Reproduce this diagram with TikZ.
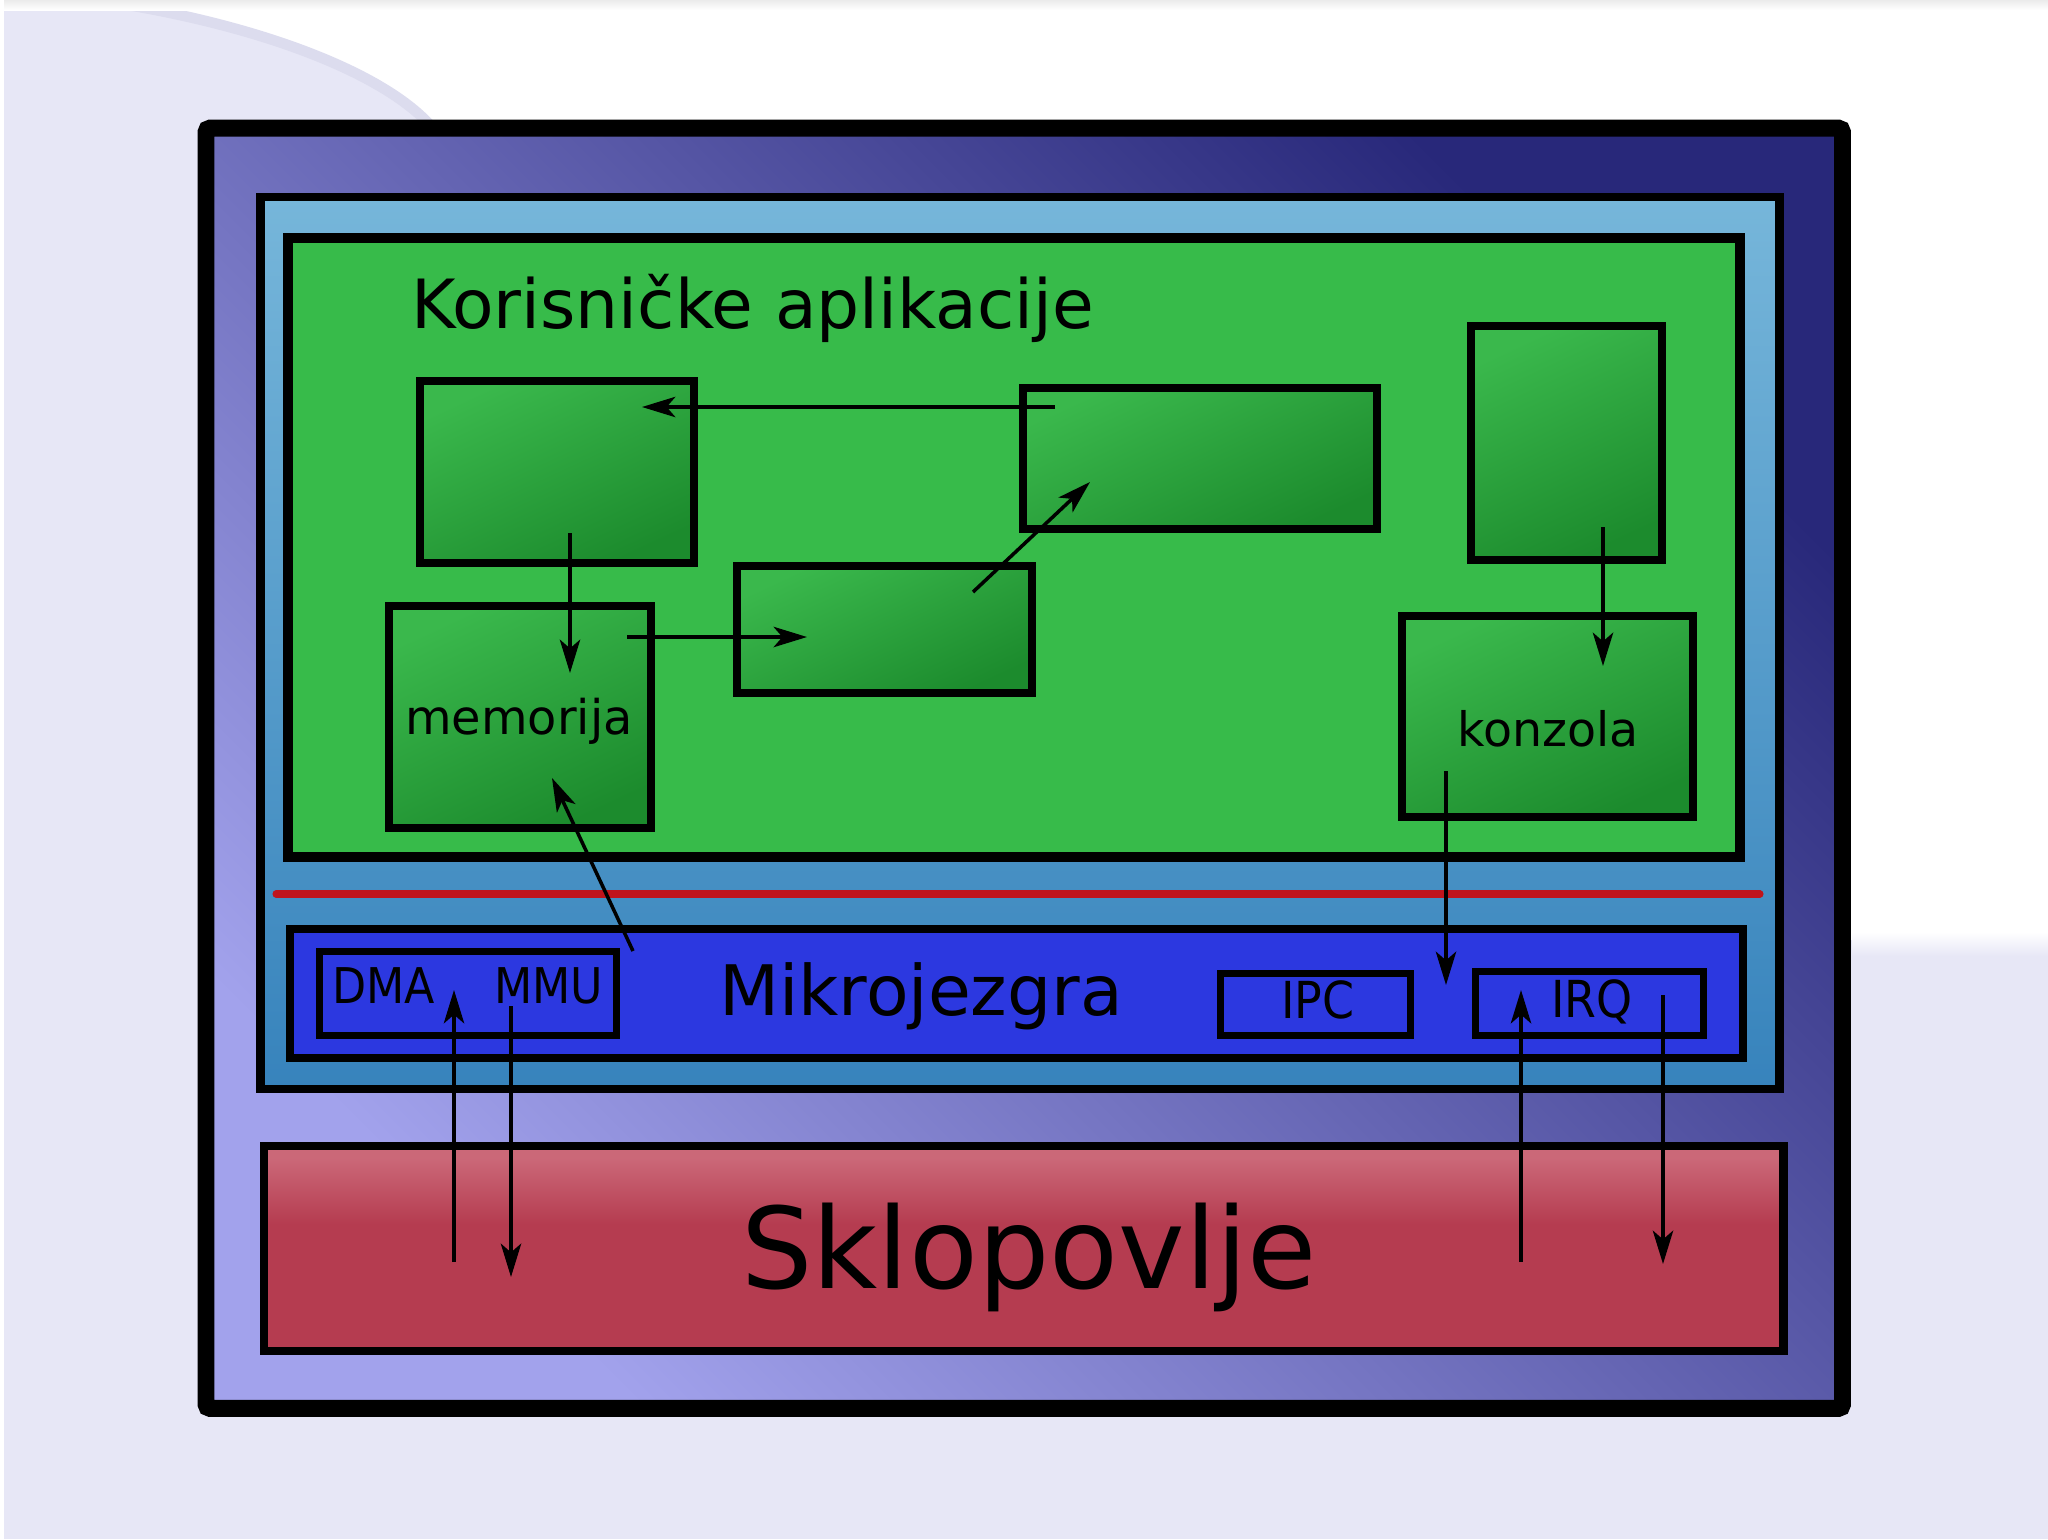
\documentclass[tikz,border=0pt]{standalone}
\usepackage{fontspec}
\setmainfont{DejaVu Sans}
\newfontfamily\condfont[FakeStretch=0.9]{DejaVu Sans}
\usetikzlibrary{arrows.meta}

\definecolor{bglav}{HTML}{E7E7F6}
\definecolor{bgedge}{HTML}{DCDCEE}
\definecolor{framelight}{HTML}{A2A2EC}
\definecolor{framedark}{HTML}{28287A}
\definecolor{kerntop}{HTML}{76B6DA}
\definecolor{kernbot}{HTML}{3783BC}
\definecolor{appgreen}{HTML}{37BB4A}
\definecolor{glight}{HTML}{3AB84C}
\definecolor{gdark}{HTML}{1C8B2D}
\definecolor{mikblue}{HTML}{2C38E0}
\definecolor{redbase}{HTML}{B53C50}
\definecolor{redtop}{HTML}{CB6878}
\definecolor{sepred}{HTML}{C0141C}

\pgfdeclareverticalshading{redsh}{100bp}{color(0bp)=(redbase); color(25bp)=(redbase); color(56bp)=(redbase); color(72bp)=(redtop); color(75bp)=(redtop); color(100bp)=(redtop)}

\tikzset{
  box/.style={draw=black, rectangle, inner sep=0pt, outer sep=0pt},
  gbox/.style={box, line width=2.3pt, left color=glight, right color=gdark, shading angle=25},
  sbox/.style={box, line width=2pt},
  lbl/.style={inner sep=0pt, outer sep=0pt, text=black},
  arr/.style={-{Stealth[length=9.5pt,width=5.8pt,inset=2.5pt]}, line width=1pt, draw=black},
}

\begin{document}
\begin{tikzpicture}[x=0.01cm, y=-0.01cm]
\useasboundingbox (0,0) rectangle (2048,1539);

% background
\fill[bglav] (0,0) rectangle (2048,1539);
\fill[white] (96,0) .. controls (250,22) and (380,70) .. (430,125) -- (1000,300) -- (1000,940) -- (2048,940) -- (2048,0) -- cycle;
\draw[bgedge, line width=3pt] (96,0) .. controls (250,22) and (380,70) .. (430,125);
\shade[top color=white, bottom color=bglav] (1852,932) rectangle (2048,956);
\shade[top color=black!8, bottom color=white] (0,0) rectangle (2048,10);
\fill[white] (0,0) rectangle (4,1539);

% outer frame
\node[box, line width=4.8pt, rounded corners=0.04cm, left color=framelight, right color=framedark, shading angle=135,
      minimum width=16.355cm, minimum height=12.795cm] (frame) at (1024.25,768.25) {};

% kernel / user space container
\node[box, line width=2.4pt, top color=kerntop, bottom color=kernbot,
      minimum width=15.18cm, minimum height=8.915cm] (kern) at (1020,643.25) {};

% user applications
\node[box, line width=2.85pt, fill=appgreen,
      minimum width=14.52cm, minimum height=6.19cm] (apps) at (1014,547.5) {};
\node[lbl, anchor=base west, font=\fontsize{19.3}{22}\selectfont] (title) at (411,328) {Korisničke aplikacije};

\node[gbox, minimum width=2.74cm, minimum height=1.82cm] (A) at (557,472) {};
\node[gbox, minimum width=2.62cm, minimum height=2.22cm] (mem) at (520,717) {};
\node[gbox, minimum width=2.95cm, minimum height=1.27cm] (E) at (884.5,629.5) {};
\node[gbox, minimum width=3.54cm, minimum height=1.41cm] (B) at (1200,458.5) {};
\node[gbox, minimum width=1.91cm, minimum height=2.34cm] (C) at (1566.5,443) {};
\node[gbox, minimum width=2.91cm, minimum height=2.01cm] (kon) at (1547.5,716.5) {};
\node[lbl, anchor=base, font=\fontsize{13.6}{16}\selectfont] (memtxt) at (519,734) {memorija};
\node[lbl, anchor=base, font=\fontsize{13.5}{16}\selectfont] (kontxt) at (1548,746) {konzola};

% separator
\coordinate (sepL) at (276,894);
\coordinate (sepR) at (1760,894);
\draw[sepred, line width=2pt, line cap=round] (sepL) -- (sepR);

% microkernel
\node[box, line width=2.3pt, fill=mikblue, minimum width=14.53cm, minimum height=1.29cm] (mikro) at (1016.5,993.5) {};
\node[sbox, minimum width=2.97cm, minimum height=0.84cm] (dmammu) at (468,993.5) {};
\node[sbox, minimum width=1.90cm, minimum height=0.62cm] (ipc) at (1315.5,1004.5) {};
\node[sbox, minimum width=2.28cm, minimum height=0.64cm] (irq) at (1589.5,1003.5) {};
\node[lbl, anchor=base, font=\fontsize{19.8}{22}\selectfont] (miktxt) at (921,1015) {Mikrojezgra};
\node[lbl, anchor=base west, font=\condfont\fontsize{14}{16}\selectfont] (dmatxt) at (332,1003) {DMA};
\node[lbl, anchor=base west, font=\condfont\fontsize{14}{16}\selectfont] (mmutxt) at (494,1003) {MMU};
\node[lbl, anchor=base, font=\condfont\fontsize{14.5}{16}\selectfont] (ipctxt) at (1318,1018) {IPC};
\node[lbl, anchor=base, font=\condfont\fontsize{14.5}{16}\selectfont] (irqtxt) at (1592,1017) {IRQ};

% hardware
\node[box, line width=2.3pt, shading=redsh, minimum width=15.19cm, minimum height=2.05cm] (sklop) at (1023.5,1248.5) {};
\node[lbl, anchor=base, font=\fontsize{32}{36}\selectfont] (sktxt) at (1029,1288) {Sklopovlje};

% connector end points
\coordinate (b1) at (1055,407);   \coordinate (a1) at (642,407);
\coordinate (a2) at (570,533);    \coordinate (m2) at (570,673);
\coordinate (m3) at (627,637);    \coordinate (e3) at (807,637);
\coordinate (e4) at (973,592);    \coordinate (b4) at (1090,482);
\coordinate (k5) at (633,951);    \coordinate (m5) at (552,778);
\coordinate (c6) at (1603,527);   \coordinate (n6) at (1603,666);
\coordinate (n7) at (1446,771);   \coordinate (k7) at (1446,985);
\coordinate (s8) at (454,1262);   \coordinate (d8) at (454,990);
\coordinate (d9) at (511,1006);   \coordinate (s9) at (511,1277);
\coordinate (s10) at (1521,1262); \coordinate (i10) at (1521,990);
\coordinate (i11) at (1663,995);  \coordinate (s11) at (1663,1264);

\draw[arr] (b1) -- (a1);
\draw[arr] (a2) -- (m2);
\draw[arr] (m3) -- (e3);
\draw[arr] (e4) -- (b4);
\draw[arr] (k5) -- (m5);
\draw[arr] (c6) -- (n6);
\draw[arr] (n7) -- (k7);
\draw[arr] (s8) -- (d8);
\draw[arr] (d9) -- (s9);
\draw[arr] (s10) -- (i10);
\draw[arr] (i11) -- (s11);
\end{tikzpicture}
\end{document}
